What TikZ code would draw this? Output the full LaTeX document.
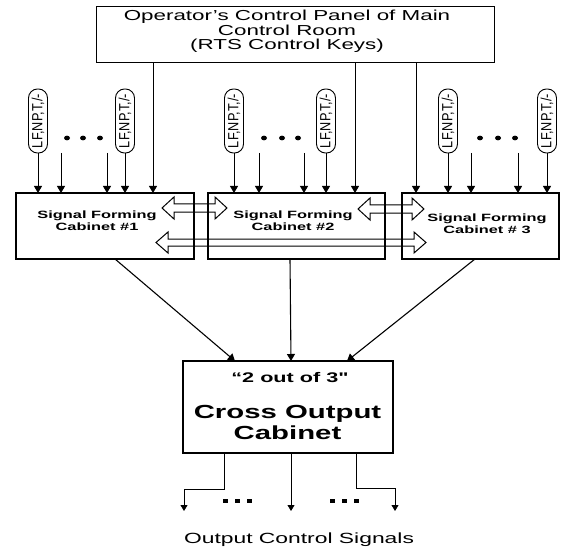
\documentclass[tikz,border=0pt]{standalone}
\usepackage{fontspec}
\setmainfont{Liberation Sans}
\newfontfamily\wf[FakeStretch=1.55]{Liberation Sans}
\usetikzlibrary{arrows.meta}
\newcommand\dblarr[5]{%
  \draw[dblar] (#1,#3) -- (#1+12,#3+#5) -- (#1+12,#3+#4) -- (#2-12,#3+#4) -- (#2-12,#3+#5) -- (#2,#3)
   -- (#2-12,#3-#5) -- (#2-12,#3-#4) -- (#1+12,#3-#4) -- (#1+12,#3-#5) -- cycle;}
\newcommand\captext{\scalebox{1.02}[1.18]{LF,NP,T,/-}}
\begin{document}
\begin{tikzpicture}[x=1bp,y=1bp,
  box/.style={draw, line width=1.3bp, inner sep=0, outer sep=0},
  arr/.style={line width=1bp, -{Triangle[width=8bp,length=7bp]}},
  oarr/.style={line width=0.8bp, -{Triangle[width=7bp,length=6bp]}},
  caps/.style={draw, line width=0.9bp, rounded corners=9bp, minimum width=64bp, minimum height=19bp,
    inner sep=0, outer sep=0, rotate=90, font=\fontsize{12.5}{12.5}\selectfont},
  dblar/.style={draw, line width=1bp, line join=miter},
  ctext/.style={font=\wf\bfseries\fontsize{10.6}{12}\selectfont, align=center, inner sep=0},
  dotm/.style={fill=black}
]
\useasboundingbox (0,0) rectangle (561,-547);

% top panel
\node[box, line width=1bp, minimum width=397bp, minimum height=56bp] (top) at (295.5,-35) {};
\node[align=center, inner sep=0, font=\wf\fontsize{14.5}{14.3}\selectfont] (toptext) at (287,-31.5)
  {Operator’s Control Panel of Main\\Control Room\\(RTS Control Keys)};

% cabinets
\node[box, minimum width=178bp, minimum height=66bp] (cab1) at (105,-226) {};
\node[box, minimum width=177bp, minimum height=66bp] (cab2) at (296.5,-226) {};
\node[box, minimum width=157bp, minimum height=66bp] (cab3) at (480.5,-226) {};
\node[ctext] (t1) at (97,-221) {Signal Forming\\Cabinet \#1};
\node[ctext] (t2) at (293,-221) {Signal Forming\\Cabinet \#2};
\node[ctext] (t3) at (487,-223.5) {Signal Forming\\Cabinet \# 3};

% capsules
\node[caps] (k11) at (38,-121) {\captext};
\node[caps] (k12) at (125,-121) {\captext};
\node[caps] (k21) at (234,-121) {\captext};
\node[caps] (k22) at (326,-121) {\captext};
\node[caps] (k31) at (448,-121) {\captext};
\node[caps] (k32) at (547,-121) {\captext};

% free input starts
\coordinate (f11) at (61,-153);
\coordinate (f12) at (107,-153);
\coordinate (f21) at (259,-153);
\coordinate (f22) at (304,-153);
\coordinate (f31) at (471,-153);
\coordinate (f32) at (518,-153);

% input arrows
\foreach \k/\c in {k11/cab1,k12/cab1,k21/cab2,k22/cab2,k31/cab3,k32/cab3}
  \draw[arr] (\k.west) -- (\k.west |- \c.north);
\foreach \k/\c in {f11/cab1,f12/cab1,f21/cab2,f22/cab2,f31/cab3,f32/cab3}
  \draw[arr] (\k) -- (\k |- \c.north);

% lines from top panel
\draw[arr] (top.south -| 153,0) -- (cab1.north -| 153,0);
\draw[arr] (top.south -| 355,0) -- (cab2.north -| 355,0);
\draw[arr] (top.south -| 416,0) -- (cab3.north -| 416,0);

% dots
\foreach \x in {67,83,100,264,282,298,480,498,515}
  \fill[dotm] (\x,-138) ellipse [x radius=3, y radius=2.4];

% double arrows
\dblarr{162}{227}{-208}{4}{11}
\dblarr{358}{424}{-209}{4}{11}
\dblarr{156}{426}{-242.5}{3.5}{10.5}

% cross output cabinet
\node[box, minimum width=210bp, minimum height=92bp] (cross) at (288,-407) {};
\node[anchor=base, inner sep=0, font=\wf\bfseries\fontsize{14}{14}\selectfont] (q) at (290,-382) {“2 out of 3"};
\node[align=center, inner sep=0, font=\wf\bfseries\fontsize{19}{20.5}\selectfont] (co) at (287.5,-422.5) {Cross Output\\Cabinet};

\coordinate (s1) at (115,-259);
\coordinate (s2) at (290,-259);
\coordinate (s3) at (475,-259);
\draw[arr, line width=1.1bp] (s1) -- (cross.north -| 235,0);
\draw[arr, line width=1.1bp] (s2) -- (cross.north -| 291,0);
\draw[arr, line width=1.1bp] (s3) -- (cross.north -| 347,0);

% outputs
\coordinate (e1) at (184,-511);
\coordinate (e2) at (291,-511);
\coordinate (e3) at (395,-511);
\draw[oarr] (cross.south -| 224,0) -- (224,-489) -| (e1);
\draw[oarr] (cross.south -| 291,0) -- (e2);
\draw[oarr] (cross.south -| 356,0) -- (356,-488) -| (e3);

\foreach \x in {225.5,237.5,249.5,332.5,344.5,356.5}
  \fill[dotm] (\x-2.7,-499.3) rectangle ++(5.4,-3.8);

\node[anchor=base, inner sep=0, font=\wf\fontsize{14.8}{15}\selectfont] (out) at (299,-543) {Output Control Signals};
\end{tikzpicture}
\end{document}
